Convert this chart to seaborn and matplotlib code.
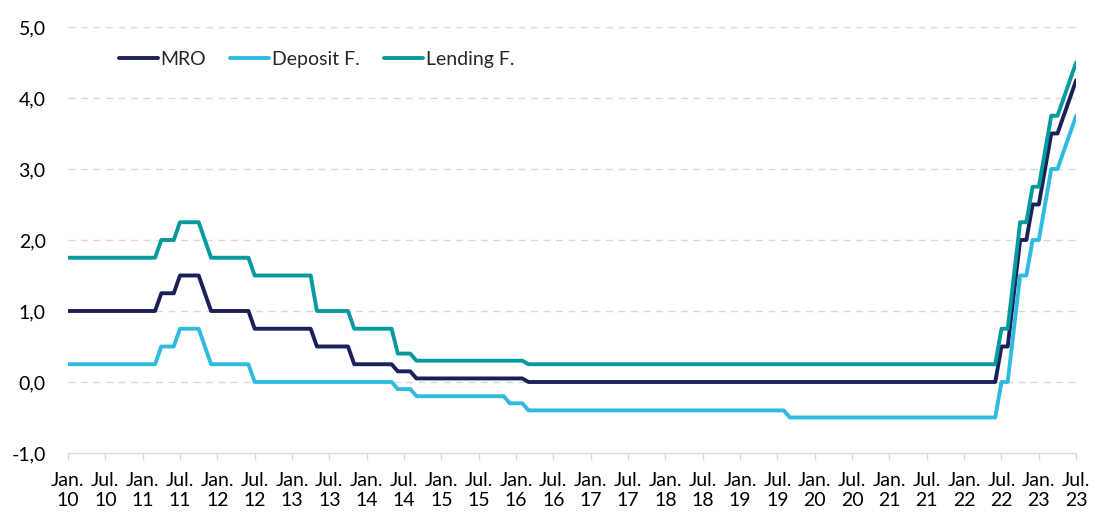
import matplotlib
matplotlib.use("Agg")
import matplotlib.pyplot as plt
import seaborn as sns
import pandas as pd

# Monthly values, Jan 2010 .. Jul 2023 (one row per year)
mro = [
    1.00, 1.00, 1.00, 1.00, 1.00, 1.00, 1.00, 1.00, 1.00, 1.00, 1.00, 1.00,
    1.00, 1.00, 1.00, 1.25, 1.25, 1.25, 1.50, 1.50, 1.50, 1.50, 1.25, 1.00,
    1.00, 1.00, 1.00, 1.00, 1.00, 1.00, 0.75, 0.75, 0.75, 0.75, 0.75, 0.75,
    0.75, 0.75, 0.75, 0.75, 0.50, 0.50, 0.50, 0.50, 0.50, 0.50, 0.25, 0.25,
    0.25, 0.25, 0.25, 0.25, 0.25, 0.15, 0.15, 0.15, 0.05, 0.05, 0.05, 0.05,
    0.05, 0.05, 0.05, 0.05, 0.05, 0.05, 0.05, 0.05, 0.05, 0.05, 0.05, 0.05,
    0.05, 0.05, 0.00, 0.00, 0.00, 0.00, 0.00, 0.00, 0.00, 0.00, 0.00, 0.00,
    0.00, 0.00, 0.00, 0.00, 0.00, 0.00, 0.00, 0.00, 0.00, 0.00, 0.00, 0.00,
    0.00, 0.00, 0.00, 0.00, 0.00, 0.00, 0.00, 0.00, 0.00, 0.00, 0.00, 0.00,
    0.00, 0.00, 0.00, 0.00, 0.00, 0.00, 0.00, 0.00, 0.00, 0.00, 0.00, 0.00,
    0.00, 0.00, 0.00, 0.00, 0.00, 0.00, 0.00, 0.00, 0.00, 0.00, 0.00, 0.00,
    0.00, 0.00, 0.00, 0.00, 0.00, 0.00, 0.00, 0.00, 0.00, 0.00, 0.00, 0.00,
    0.00, 0.00, 0.00, 0.00, 0.00, 0.00, 0.50, 0.50, 1.25, 2.00, 2.00, 2.50,
    2.50, 3.00, 3.50, 3.50, 3.75, 4.00, 4.25,
]
deposit = [
    0.25, 0.25, 0.25, 0.25, 0.25, 0.25, 0.25, 0.25, 0.25, 0.25, 0.25, 0.25,
    0.25, 0.25, 0.25, 0.50, 0.50, 0.50, 0.75, 0.75, 0.75, 0.75, 0.50, 0.25,
    0.25, 0.25, 0.25, 0.25, 0.25, 0.25, 0.00, 0.00, 0.00, 0.00, 0.00, 0.00,
    0.00, 0.00, 0.00, 0.00, 0.00, 0.00, 0.00, 0.00, 0.00, 0.00, 0.00, 0.00,
    0.00, 0.00, 0.00, 0.00, 0.00, -0.10, -0.10, -0.10, -0.20, -0.20, -0.20, -0.20,
    -0.20, -0.20, -0.20, -0.20, -0.20, -0.20, -0.20, -0.20, -0.20, -0.20, -0.20, -0.30,
    -0.30, -0.30, -0.40, -0.40, -0.40, -0.40, -0.40, -0.40, -0.40, -0.40, -0.40, -0.40,
    -0.40, -0.40, -0.40, -0.40, -0.40, -0.40, -0.40, -0.40, -0.40, -0.40, -0.40, -0.40,
    -0.40, -0.40, -0.40, -0.40, -0.40, -0.40, -0.40, -0.40, -0.40, -0.40, -0.40, -0.40,
    -0.40, -0.40, -0.40, -0.40, -0.40, -0.40, -0.40, -0.40, -0.50, -0.50, -0.50, -0.50,
    -0.50, -0.50, -0.50, -0.50, -0.50, -0.50, -0.50, -0.50, -0.50, -0.50, -0.50, -0.50,
    -0.50, -0.50, -0.50, -0.50, -0.50, -0.50, -0.50, -0.50, -0.50, -0.50, -0.50, -0.50,
    -0.50, -0.50, -0.50, -0.50, -0.50, -0.50, 0.00, 0.00, 0.75, 1.50, 1.50, 2.00,
    2.00, 2.50, 3.00, 3.00, 3.25, 3.50, 3.75,
]
lending = [
    1.75, 1.75, 1.75, 1.75, 1.75, 1.75, 1.75, 1.75, 1.75, 1.75, 1.75, 1.75,
    1.75, 1.75, 1.75, 2.00, 2.00, 2.00, 2.25, 2.25, 2.25, 2.25, 2.00, 1.75,
    1.75, 1.75, 1.75, 1.75, 1.75, 1.75, 1.50, 1.50, 1.50, 1.50, 1.50, 1.50,
    1.50, 1.50, 1.50, 1.50, 1.00, 1.00, 1.00, 1.00, 1.00, 1.00, 0.75, 0.75,
    0.75, 0.75, 0.75, 0.75, 0.75, 0.40, 0.40, 0.40, 0.30, 0.30, 0.30, 0.30,
    0.30, 0.30, 0.30, 0.30, 0.30, 0.30, 0.30, 0.30, 0.30, 0.30, 0.30, 0.30,
    0.30, 0.30, 0.25, 0.25, 0.25, 0.25, 0.25, 0.25, 0.25, 0.25, 0.25, 0.25,
    0.25, 0.25, 0.25, 0.25, 0.25, 0.25, 0.25, 0.25, 0.25, 0.25, 0.25, 0.25,
    0.25, 0.25, 0.25, 0.25, 0.25, 0.25, 0.25, 0.25, 0.25, 0.25, 0.25, 0.25,
    0.25, 0.25, 0.25, 0.25, 0.25, 0.25, 0.25, 0.25, 0.25, 0.25, 0.25, 0.25,
    0.25, 0.25, 0.25, 0.25, 0.25, 0.25, 0.25, 0.25, 0.25, 0.25, 0.25, 0.25,
    0.25, 0.25, 0.25, 0.25, 0.25, 0.25, 0.25, 0.25, 0.25, 0.25, 0.25, 0.25,
    0.25, 0.25, 0.25, 0.25, 0.25, 0.25, 0.75, 0.75, 1.50, 2.25, 2.25, 2.75,
    2.75, 3.25, 3.75, 3.75, 4.00, 4.25, 4.50,
]
series_names = ["MRO", "Deposit F.", "Lending F."]
tick_labels = [
    "Jan.\n10", "Jul.\n10", "Jan.\n11", "Jul.\n11", "Jan.\n12", "Jul.\n12", "Jan.\n13",
    "Jul.\n13", "Jan.\n14", "Jul.\n14", "Jan.\n15", "Jul.\n15", "Jan.\n16", "Jul.\n16",
    "Jan.\n17", "Jul.\n17", "Jan.\n18", "Jul.\n18", "Jan.\n19", "Jul.\n19", "Jan.\n20",
    "Jul.\n20", "Jan.\n21", "Jul.\n21", "Jan.\n22", "Jul.\n22", "Jan.\n23", "Jul.\n23",
]
y_ticks = [-1.0, 0.0, 1.0, 2.0, 3.0, 4.0, 5.0]

n = len(mro)
df = pd.DataFrame({
    "month": list(range(n)) * 3,
    "value": mro + deposit + lending,
    "series": [series_names[0]] * n + [series_names[1]] * n + [series_names[2]] * n,
})

sns.set_theme(style="white")
plt.rcParams["font.family"] = ["Lato", "DejaVu Sans"]
FS = 14

fig = plt.figure(figsize=(11.05, 5.18), dpi=100)
ax = fig.add_axes([0.0615, 0.1255, 0.9124, 0.8224])

palette = {"MRO": "#1c2058", "Deposit F.": "#2fbbdf", "Lending F.": "#06999d"}
sns.lineplot(data=df, x="month", y="value", hue="series", palette=palette,
             linewidth=2.8, ax=ax, legend=True)

ax.set_xlim(0, n - 1)
ax.set_ylim(-1.0, 5.0)
ax.set_yticks(y_ticks)
ax.set_yticklabels([f"{v:.1f}".replace(".", ",") for v in y_ticks])
ax.set_xticks(list(range(0, n, 6)))
ax.set_xticklabels(tick_labels, linespacing=1.9)
ax.set_xlabel("")
ax.set_ylabel("")

for v in y_ticks[1:]:
    ax.axhline(v, color="#d9d9d9", linewidth=1.0, linestyle=(0, (5, 4)), zorder=0)

for s in ["top", "right", "left"]:
    ax.spines[s].set_visible(False)
ax.spines["bottom"].set_color("#d9d9d9")
ax.spines["bottom"].set_linewidth(1.0)
ax.spines["bottom"].set_position(("data", -1.0))

ax.tick_params(axis="x", which="major", length=5, width=1.0, color="#d9d9d9",
               labelsize=FS, pad=9, labelcolor="#000000")
ax.tick_params(axis="y", length=0, labelsize=FS, pad=16, labelcolor="#000000")
ax.xaxis.set_ticks_position("bottom")

leg = ax.legend(loc="upper left", bbox_to_anchor=(0.033, 0.985), ncol=3, frameon=False,
                fontsize=FS, handlelength=2.0, handletextpad=0.15, columnspacing=1.25)
for line in leg.get_lines():
    line.set_linewidth(2.8)

fig.savefig("out.png", dpi=100)
